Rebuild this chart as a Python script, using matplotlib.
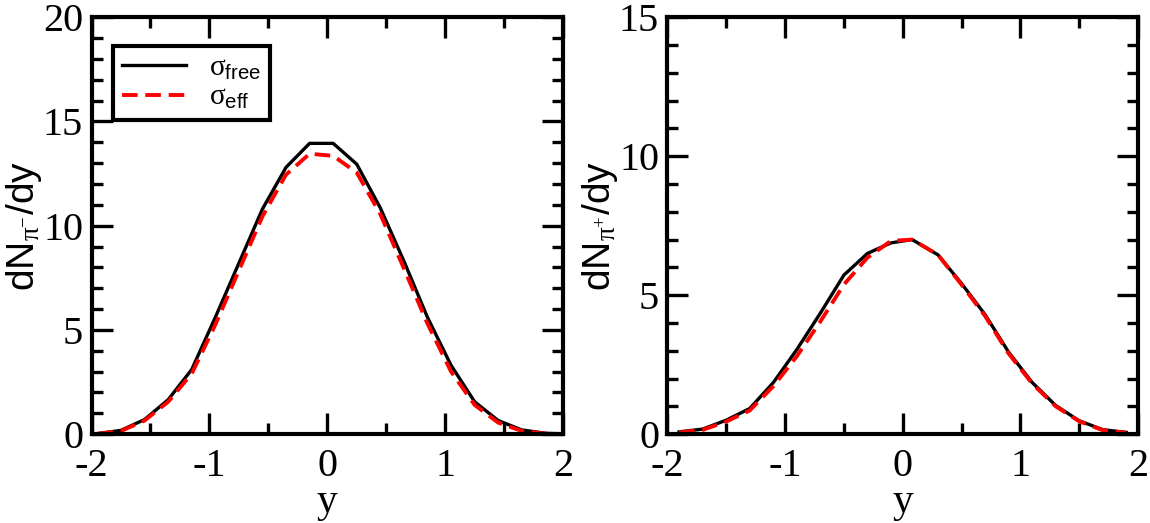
import matplotlib
matplotlib.use('Agg')
import matplotlib.pyplot as plt
from matplotlib.ticker import MultipleLocator

plt.rcParams['font.family'] = 'Liberation Serif'
plt.rcParams['mathtext.fontset'] = 'custom'
plt.rcParams['mathtext.rm'] = 'Liberation Serif'
plt.rcParams['mathtext.it'] = 'Liberation Serif:italic'
plt.rcParams['mathtext.sf'] = 'Liberation Sans'
plt.rcParams['axes.unicode_minus'] = False

# pi minus panel
y_minus = [-1.95, -1.75, -1.55, -1.35, -1.15, -0.95, -0.75, -0.55, -0.35, -0.15,
           0.05, 0.25, 0.45, 0.65, 0.85, 1.05, 1.25, 1.45, 1.65, 1.85, 2.05]
free_minus = [0.02, 0.18, 0.70, 1.65, 3.10, 5.60, 8.20, 10.80, 12.80, 13.95,
              13.95, 12.95, 10.85, 8.30, 5.60, 3.30, 1.55, 0.65, 0.20, 0.04, 0.0]
eff_minus = [0.02, 0.15, 0.65, 1.55, 2.90, 5.25, 7.85, 10.45, 12.45, 13.45,
             13.35, 12.55, 10.55, 7.95, 5.30, 3.00, 1.40, 0.55, 0.15, 0.02, 0.0]

# pi plus panel
y_plus = [-1.9, -1.7, -1.5, -1.3, -1.1, -0.9, -0.7, -0.5, -0.3, -0.1,
          0.08, 0.3, 0.5, 0.7, 0.9, 1.1, 1.3, 1.5, 1.7, 1.9]
free_plus = [0.08, 0.18, 0.50, 0.92, 1.85, 3.04, 4.35, 5.72, 6.50, 6.88,
             7.00, 6.45, 5.42, 4.30, 2.95, 1.86, 1.03, 0.48, 0.16, 0.06]
eff_plus = [0.06, 0.15, 0.45, 0.85, 1.72, 2.80, 4.05, 5.38, 6.35, 6.95,
            7.00, 6.45, 5.38, 4.25, 2.90, 1.82, 1.00, 0.46, 0.14, 0.05]

xticks = [-2, -1, 0, 1, 2]
xticklabels = ['-2', '-1', '0', '1', '2']

fig = plt.figure(figsize=(11.5, 5.23), dpi=100)
ax1 = fig.add_axes([0.0796, 0.170, 0.410, 0.797])
ax2 = fig.add_axes([0.5803, 0.170, 0.4093, 0.797])


def style_axes(ax, ymax, ylabel):
    ax.set_xlim(-2, 2)
    ax.set_ylim(0, ymax)
    ax.set_xticks(xticks)
    ax.set_xticklabels(xticklabels)
    ax.xaxis.set_minor_locator(MultipleLocator(0.5))
    ax.yaxis.set_major_locator(MultipleLocator(5))
    ax.yaxis.set_minor_locator(MultipleLocator(1))
    ax.tick_params(which='both', direction='in', top=True, right=True,
                   width=2.4, labelsize=29)
    ax.tick_params(axis='y', which='major', length=15, pad=6)
    ax.tick_params(axis='x', which='major', length=15, pad=10)
    ax.tick_params(which='minor', length=8)
    for s in ax.spines.values():
        s.set_linewidth(3)
    ax.set_xlabel('y', fontsize=30, labelpad=-2)
    ax.set_ylabel(ylabel, fontsize=28, labelpad=-1)


ax1.plot(y_minus, free_minus, color='black', lw=2.4, label=r'$\mathrm{\sigma}_{\mathsf{free}}$')
ax1.plot(y_minus, eff_minus, color='red', lw=2.8, dashes=(4.0, 2.0), label=r'$\mathrm{\sigma}_{\mathsf{eff}}$')
style_axes(ax1, 20, r'$\mathsf{dN}_{\mathrm{\pi}^{-}}\mathsf{/dy}$')

ax2.plot(y_plus, free_plus, color='black', lw=2.4)
ax2.plot(y_plus, eff_plus, color='red', lw=2.8, dashes=(4.0, 2.0))
style_axes(ax2, 15, r'$\mathsf{dN}_{\mathrm{\pi}^{+}}\mathsf{/dy}$')

leg = ax1.legend(loc='upper left', bbox_to_anchor=(0.045, 0.93), fontsize=21,
                 fancybox=False, framealpha=1, edgecolor='black',
                 handlelength=2.2, handletextpad=0.8, borderpad=0.3,
                 labelspacing=0.1, borderaxespad=0)
leg.get_frame().set_linewidth(3)

fig.savefig('out.png', dpi=100)
